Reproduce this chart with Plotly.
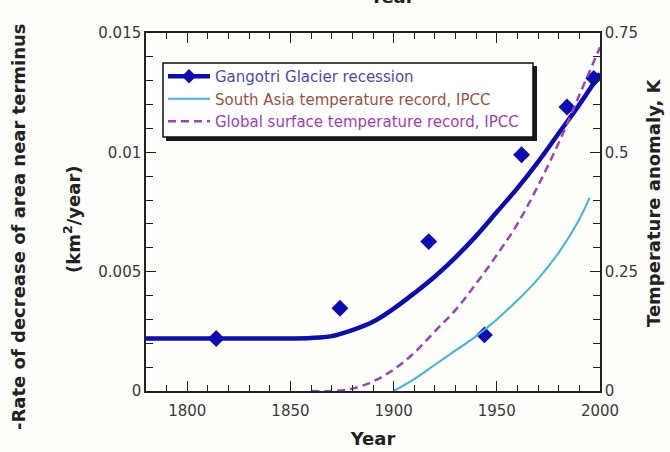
import plotly.graph_objects as go

# ---- data ----
obs_years = [1814, 1874, 1917, 1944, 1962, 1984, 1997]
obs_rate = [0.0022, 0.00347, 0.00626, 0.00235, 0.0099, 0.0119, 0.0131]

fit_years = [1780, 1800, 1820, 1840, 1850, 1860, 1870, 1880, 1890, 1900, 1910, 1920,
             1930, 1940, 1950, 1960, 1970, 1980, 1990, 2000]
fit_rate = [0.0022, 0.0022, 0.0022, 0.0022, 0.0022, 0.00222, 0.0023, 0.00255, 0.0029,
            0.00345, 0.0041, 0.0048, 0.0056, 0.0065, 0.0075, 0.0085, 0.0096, 0.0108,
            0.0120, 0.0133]

sa_years = [1900, 1910, 1920, 1930, 1940, 1950, 1960, 1970, 1980, 1990, 1995]
sa_temp = [0.0, 0.025, 0.055, 0.085, 0.115, 0.15, 0.19, 0.235, 0.29, 0.36, 0.405]

gl_years = [1860, 1870, 1880, 1890, 1900, 1910, 1920, 1930, 1940, 1950, 1960, 1970,
            1980, 1990, 2000]
gl_temp = [0.0, 0.0, 0.005, 0.02, 0.045, 0.08, 0.125, 0.17, 0.225, 0.285, 0.35, 0.43,
           0.52, 0.62, 0.72]

x_ticks = [1800, 1850, 1900, 1950, 2000]
y_ticks = [0, 0.005, 0.01, 0.015]
y_tick_text = ["0", "0.005", "0.01", "0.015"]
y2_ticks = [0, 0.25, 0.5, 0.75]
y2_tick_text = ["0", "0.25", "0.5", "0.75"]

BLUE = "#0c0cb4"
CYAN = "#3cb8dc"
PURPLE = "#a040c0"

# plot area in pixels
W, H = 670, 452
L, R, T, B = 146, 600, 33, 391


def px(xp):
    return (xp - L) / (R - L)


def py(yp):
    return (B - yp) / (B - T)


fig = go.Figure()

# legend-only entry for the glacier series (line + diamond)
fig.add_trace(go.Scatter(
    x=[None], y=[None], mode="lines+markers", legendgroup="a",
    name='<span style="color:#4a4ab8">Gangotri Glacier recession</span>',
    line=dict(color=BLUE, width=4.5),
    marker=dict(symbol="diamond", size=11, color=BLUE),
))
fig.add_trace(go.Scatter(
    x=sa_years, y=sa_temp, yaxis="y2", mode="lines", line_shape="spline",
    legendgroup="b",
    name='<span style="color:#a0503c">South Asia temperature record, IPCC</span>',
    line=dict(color=CYAN, width=2),
))
fig.add_trace(go.Scatter(
    x=gl_years, y=gl_temp, yaxis="y2", mode="lines", line_shape="spline",
    legendgroup="c",
    name='<span style="color:#a040b8">Global surface temperature record, IPCC</span>',
    line=dict(color=PURPLE, width=2.5, dash="8px,5px"),
))
fig.add_trace(go.Scatter(
    x=fit_years, y=fit_rate, mode="lines", line_shape="spline", showlegend=False,
    line=dict(color=BLUE, width=4.5),
))
fig.add_trace(go.Scatter(
    x=obs_years, y=obs_rate, mode="markers", showlegend=False,
    marker=dict(symbol="diamond", size=13, color=BLUE),
))

tickfont = dict(family="DejaVu Sans", size=15, color="#3a3a3a")
titlefont = dict(family="DejaVu Sans", size=18, color="#222222", weight="bold")

fig.update_layout(
    width=W, height=H,
    margin=dict(l=L, r=W - R, t=T, b=H - B, autoexpand=False),
    paper_bgcolor="#fdfdf9", plot_bgcolor="#fdfdf9",
    showlegend=True,
    legend=dict(
        x=px(163), y=py(60), xanchor="left", yanchor="top",
        bgcolor="rgba(0,0,0,0)", borderwidth=0,
        font=dict(family="DejaVu Sans", size=15),
        itemwidth=42, tracegroupgap=0, traceorder="grouped",
    ),
    xaxis=dict(
        range=[1780, 2000], tickvals=x_ticks, ticks="inside", ticklen=10,
        tickwidth=1.3, tickcolor="#222", showline=True, linecolor="#222", linewidth=1.5,
        mirror="ticks", showgrid=False, zeroline=False, tickfont=tickfont,
        ticklabelstandoff=5, automargin=False,
        minor=dict(dtick=10, ticks="inside", ticklen=6, tickcolor="#222", tickwidth=1.2),
        title=dict(text="Year", font=titlefont, standoff=14),
    ),
    yaxis=dict(
        range=[0, 0.015], tickvals=y_ticks, ticktext=y_tick_text, ticks="inside",
        ticklen=10, tickwidth=1.3, tickcolor="#222", showline=True, linecolor="#222",
        linewidth=1.5, showgrid=False, zeroline=False, tickfont=tickfont,
        automargin=False,
        minor=dict(dtick=0.001, ticks="inside", ticklen=7, tickcolor="#222", tickwidth=1.2),
    ),
    yaxis2=dict(
        range=[0, 0.75], tickvals=y2_ticks, ticktext=y2_tick_text, overlaying="y",
        side="right", ticks="inside", ticklen=10, tickwidth=1.3, tickcolor="#222",
        showline=True, linecolor="#222", linewidth=1.5, showgrid=False, zeroline=False,
        tickfont=tickfont, automargin=False,
        minor=dict(dtick=0.05, ticks="inside", ticklen=7, tickcolor="#222", tickwidth=1.2),
    ),
)

# legend box with drop shadow
fig.add_shape(type="rect", xref="paper", yref="paper",
              x0=px(166), x1=px(537), y0=py(141), y1=py(66),
              fillcolor="#1a1a1a", line=dict(width=0), layer="above")
fig.add_shape(type="rect", xref="paper", yref="paper",
              x0=px(163), x1=px(533), y0=py(137), y1=py(63),
              fillcolor="#ffffff", line=dict(color="#111111", width=1.5), layer="above")

# axis titles
fig.add_annotation(text="-Rate of decrease of area near terminus", textangle=-90,
                   xref="paper", yref="paper", x=px(19), y=py(227),
                   xanchor="center", yanchor="middle",
                   showarrow=False, font=titlefont)
fig.add_annotation(text="(km<sup>2</sup>/year)", textangle=-90,
                   xref="paper", yref="paper", x=px(72), y=py(220),
                   xanchor="center", yanchor="middle",
                   showarrow=False, font=titlefont)
fig.add_annotation(text="Temperature anomaly, K", textangle=-90,
                   xref="paper", yref="paper", x=px(653), y=py(203),
                   xanchor="center", yanchor="middle",
                   showarrow=False, font=titlefont)
# clipped title remnant at the very top
fig.add_annotation(text="Year", xref="paper", yref="paper", x=px(392), y=py(9),
                   xanchor="center", yanchor="bottom", showarrow=False, font=titlefont)

fig.write_html("out.html")
